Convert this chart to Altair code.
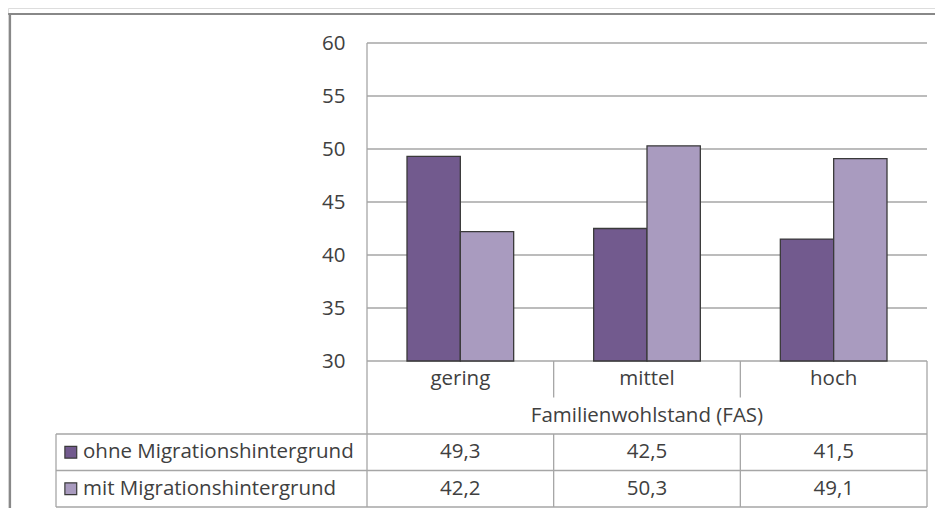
import altair as alt
import pandas as pd

# ---------------- data ----------------
categories = ["gering", "mittel", "hoch"]
series = ["ohne Migrationshintergrund", "mit Migrationshintergrund"]
ohne_values = [49.3, 42.5, 41.5]
mit_values = [42.2, 50.3, 49.1]
y_ticks = [30, 35, 40, 45, 50, 55, 60]
x_title = "Familienwohlstand (FAS)"

# ---------------- styles / layout ----------------
colors = ["#725a8e", "#a99bbf"]
FONT = "Open Sans"
FS = 20.5
TXT = "#404040"
GRID = "#a6a6a6"
FRAME = "#888888"

W, H = 927, 500            # whole svg (padding 0)
COL_PX = 186.667           # width of one category column
X0_PX = 359                # x of the value axis inside the view
Y60_PX, Y30_PX = 35, 353   # pixel rows of 60 and 30
ROW_PX = 36.5              # table row height
FRAME_X, FRAME_Y = 2, 6    # outer chart border (left / top)
LABEL_COL = 311 / COL_PX   # width of the row-label column, in column units
BAR_W = 1 / 3.5            # Excel gap width 150 %

n = len(categories)
xs = alt.Scale(domain=[-X0_PX / COL_PX, n + (W - X0_PX - n * COL_PX) / COL_PX], nice=False, zero=False)
ts = alt.Scale(domain=[-Y30_PX / ROW_PX, (H - Y30_PX) / ROW_PX], reverse=True, nice=False, zero=False)
ppu = (Y30_PX - Y60_PX) / (max(y_ticks) - min(y_ticks))
ys = alt.Scale(domain=[min(y_ticks) - (H - Y30_PX) / ppu, max(y_ticks) + Y60_PX / ppu],
               nice=False, zero=False)
cs = alt.Scale(domain=series, range=colors)

# ---------------- tables ----------------
rows = []
for si, (s, vals) in enumerate(zip(series, [ohne_values, mit_values])):
    for ci, (c, v) in enumerate(zip(categories, vals)):
        x = ci + 0.5 + (si - 1) * BAR_W
        rows.append(dict(category=c, series=s, value=v, x=x, x2=x + BAR_W,
                         xc=ci + 0.5, row=2.5 + si, label=f"{v:.1f}".replace(".", ",")))
bars_df = pd.DataFrame(rows)

grid_df = pd.DataFrame({"v": y_ticks, "x0": 0, "x1": n})
cat_df = pd.DataFrame({"category": categories, "xc": [i + 0.5 for i in range(n)], "row": 0.5})
title_df = pd.DataFrame({"t": [x_title], "xc": [n / 2], "row": [1.5]})
series_df = pd.DataFrame({"series": series, "x": -LABEL_COL, "row": [2.5 + i for i in range(len(series))]})

hlines = pd.DataFrame({"row": [2, 3, 4], "x0": -LABEL_COL, "x1": n})
vl = [(-LABEL_COL, 2, 4), (0, 0, 4), (n, 0, 4)]
for i in range(1, n):
    vl += [(i, 0, 1), (i, 2, 4)]
vlines = pd.DataFrame(vl, columns=["x", "r0", "r1"])

# outer border (top and left edge; right/bottom lie outside the picture)
fx = -X0_PX / COL_PX + FRAME_X / COL_PX
fy = -Y30_PX / ROW_PX + FRAME_Y / ROW_PX
frame_h = pd.DataFrame({"x0": [fx - 0.01], "x1": [xs.domain[1]], "r": [fy]})
frame_v = pd.DataFrame({"x": [fx], "r0": [fy - 0.02], "r1": [ts.domain[1]]})

# ---------------- layers ----------------
frame_top = alt.Chart(frame_h).mark_rule(color=FRAME, strokeWidth=2.2).encode(
    x=alt.X("x0:Q", scale=xs, axis=None), x2="x1:Q",
    y=alt.Y("r:Q", scale=ts, axis=None))
frame_left = alt.Chart(frame_v).mark_rule(color=FRAME, strokeWidth=2.2).encode(
    x=alt.X("x:Q", scale=xs, axis=None),
    y=alt.Y("r0:Q", scale=ts, axis=None), y2="r1:Q")

grid = alt.Chart(grid_df).mark_rule(color=GRID, strokeWidth=1.3).encode(
    x=alt.X("x0:Q", scale=xs, axis=None),
    x2="x1:Q",
    y=alt.Y("v:Q", scale=ys, axis=alt.Axis(values=y_ticks, offset=-X0_PX, grid=False, domain=False,
                                           ticks=False, labelPadding=22, labelFont=FONT,
                                           labelFontSize=FS, labelColor=TXT, title=None)),
)
axis_line = alt.Chart(pd.DataFrame({"x": [0], "a": [min(y_ticks)], "b": [max(y_ticks)]})).mark_rule(
    color=GRID, strokeWidth=1.3).encode(
    x=alt.X("x:Q", scale=xs, axis=None),
    y=alt.Y("a:Q", scale=ys, axis=None), y2="b:Q")

bars = alt.Chart(bars_df).mark_bar(stroke="#3a3a3a", strokeWidth=1.3).encode(
    x=alt.X("x:Q", scale=xs, axis=None), x2="x2:Q",
    y=alt.Y("value:Q", scale=ys, axis=None), y2=alt.datum(min(y_ticks)),
    color=alt.Color("series:N", scale=cs, legend=None),
)

th = alt.Chart(hlines).mark_rule(color=GRID, strokeWidth=1.3).encode(
    x=alt.X("x0:Q", scale=xs, axis=None), x2="x1:Q",
    y=alt.Y("row:Q", scale=ts, axis=None))
tv = alt.Chart(vlines).mark_rule(color=GRID, strokeWidth=1.3).encode(
    x=alt.X("x:Q", scale=xs, axis=None),
    y=alt.Y("r0:Q", scale=ts, axis=None), y2="r1:Q")

txt = dict(font=FONT, fontSize=FS, color=TXT, baseline="middle")
cat_text = alt.Chart(cat_df).mark_text(align="center", **txt).encode(
    x=alt.X("xc:Q", scale=xs, axis=None), y=alt.Y("row:Q", scale=ts, axis=None), text="category:N")
title_text = alt.Chart(title_df).mark_text(align="center", **txt).encode(
    x=alt.X("xc:Q", scale=xs, axis=None), y=alt.Y("row:Q", scale=ts, axis=None), text="t:N")
val_text = alt.Chart(bars_df).mark_text(align="center", **txt).encode(
    x=alt.X("xc:Q", scale=xs, axis=None), y=alt.Y("row:Q", scale=ts, axis=None), text="label:N")
ser_text = alt.Chart(series_df).mark_text(align="left", dx=27, **txt).encode(
    x=alt.X("x:Q", scale=xs, axis=None), y=alt.Y("row:Q", scale=ts, axis=None), text="series:N")
ser_sym = alt.Chart(series_df).mark_point(shape="square", filled=True, size=140, stroke="#3a3a3a",
                                          strokeWidth=1.2, opacity=1, xOffset=14.8).encode(
    x=alt.X("x:Q", scale=xs, axis=None), y=alt.Y("row:Q", scale=ts, axis=None),
    fill=alt.Fill("series:N", scale=cs, legend=None))

chart = alt.layer(
    frame_top, frame_left, grid, bars, axis_line, th, tv,
    cat_text, title_text, val_text, ser_text, ser_sym,
).resolve_scale(y="independent", color="shared").properties(
    width=W, height=H, padding=0,
    autosize=alt.AutoSizeParams(type="none"),
).configure_view(stroke=None).configure(background="white")

chart.save("out.html", embed_options={"renderer": "svg", "actions": False})
